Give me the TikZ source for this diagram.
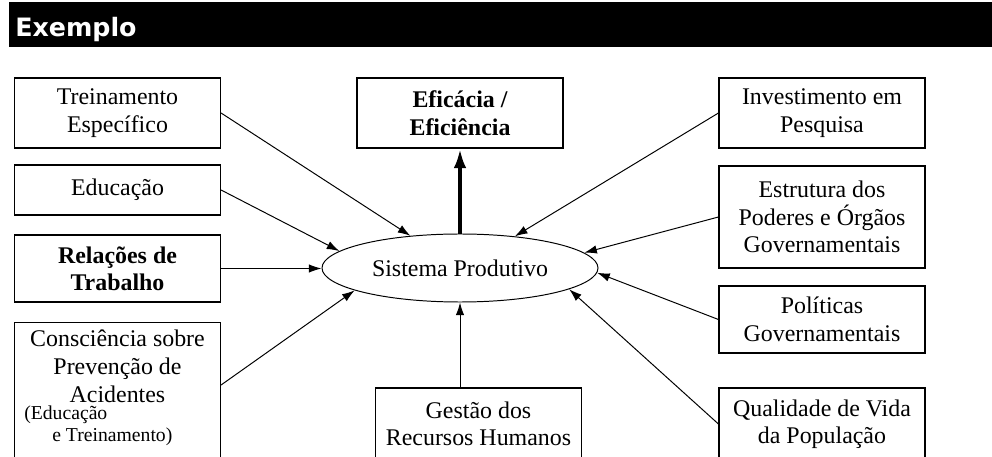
\documentclass[tikz,border=0pt]{standalone}
\usepackage{fontspec}
\setmainfont{Liberation Serif}
\newfontfamily\headfont{DejaVu Sans}
\usetikzlibrary{shapes.geometric,arrows.meta,positioning,calc}

\begin{document}
\begin{tikzpicture}[
        caixa/.style={draw, line width=0.8pt, minimum width=5.15cm, align=center, inner sep=2pt, font=\fontsize{17}{19.5}\selectfont},
        seta/.style={-{Latex[length=9pt,width=6pt]}, line width=0.7pt},
        setagrossa/.style={-{Latex[length=14pt,width=9pt]}, line width=2.8pt}
    ]
            \useasboundingbox (0,0) rectangle (24.8,11.4);
            \clip (0,0) rectangle (24.8,11.4);

            % title bar
            \fill[black] (0.225,10.225) rectangle (24.8,11.35);
            \node[anchor=base west, text=white, inner sep=0, font=\headfont\bfseries\fontsize{18}{20}\selectfont] (titulo) at (0.375,10.475) {Exemplo};

            % left column
            \node[caixa, minimum height=1.75cm] (tre) at (2.9375,8.575) {Treinamento\\Específico};
            \node[caixa, minimum height=1.25cm] (edu) at (2.9375,6.65) {Educação};
            \node[caixa, minimum height=1.675cm, font=\bfseries\fontsize{17}{19.5}\selectfont] (rel) at (2.9375,4.6875) {Relações de\\Trabalho};
            \node[caixa, minimum height=3.8cm, anchor=north] (cons) at (2.9375,3.35) {};
            \node[align=center, font=\fontsize{17}{20}\selectfont] (constxt) at (2.9375,2.25) {Consciência sobre\\Prevenção de\\Acidentes};
            \node[anchor=base west, inner sep=0, font=\fontsize{14}{14}\selectfont] (consed) at (0.6,0.92) {(Educação};
            \node[anchor=base west, inner sep=0, font=\fontsize{14}{14}\selectfont] (constr) at (1.3,0.36) {e Treinamento)};

            % centre column
            \node[caixa, minimum height=1.75cm, font=\bfseries\fontsize{17}{19.5}\selectfont] (efi) at (11.5,8.575) {Eficácia /\\Eficiência};
            \node[draw, ellipse, line width=0.7pt, minimum width=6.9cm, minimum height=1.7cm, inner sep=0, font=\fontsize{17}{19.5}\selectfont] (sis) at (11.5,4.7) {Sistema Produtivo};
            \node[caixa, minimum height=1.8cm] (ges) at (11.9625,0.8) {Gestão dos\\Recursos Humanos};

            % right column
            \node[caixa, minimum height=1.75cm] (inv) at (20.55,8.575) {Investimento em\\Pesquisa};
            \node[caixa, minimum height=2.55cm] (est) at (20.55,5.975) {Estrutura dos\\Poderes e Órgãos\\Governamentais};
            \node[caixa, minimum height=1.675cm] (pol) at (20.55,3.4125) {Políticas\\Governamentais};
            \node[caixa, minimum height=1.8cm] (qua) at (20.55,0.8) {Qualidade de Vida\\da População};

            % arrows into the system
            \draw[seta] (tre.east) -- (sis.147);
            \draw[seta] (edu.east) -- (sis.172);
            \draw[seta] (rel.east) -- (rel.east -| sis.west);
            \draw[seta] ($(cons.north east)+(0,-1.575)$) -- (sis.192);
            \draw[seta] (sis.south |- ges.north) -- (sis.south);
            \draw[seta] (inv.west) -- (sis.30);
            \draw[seta] (est.west) -- (sis.7);
            \draw[seta] (pol.west) -- (sis.358);
            \draw[seta] (qua.west) -- (sis.349);
            \draw[setagrossa] (sis.north) -- (efi.south);
        \end{tikzpicture}
\end{document}
